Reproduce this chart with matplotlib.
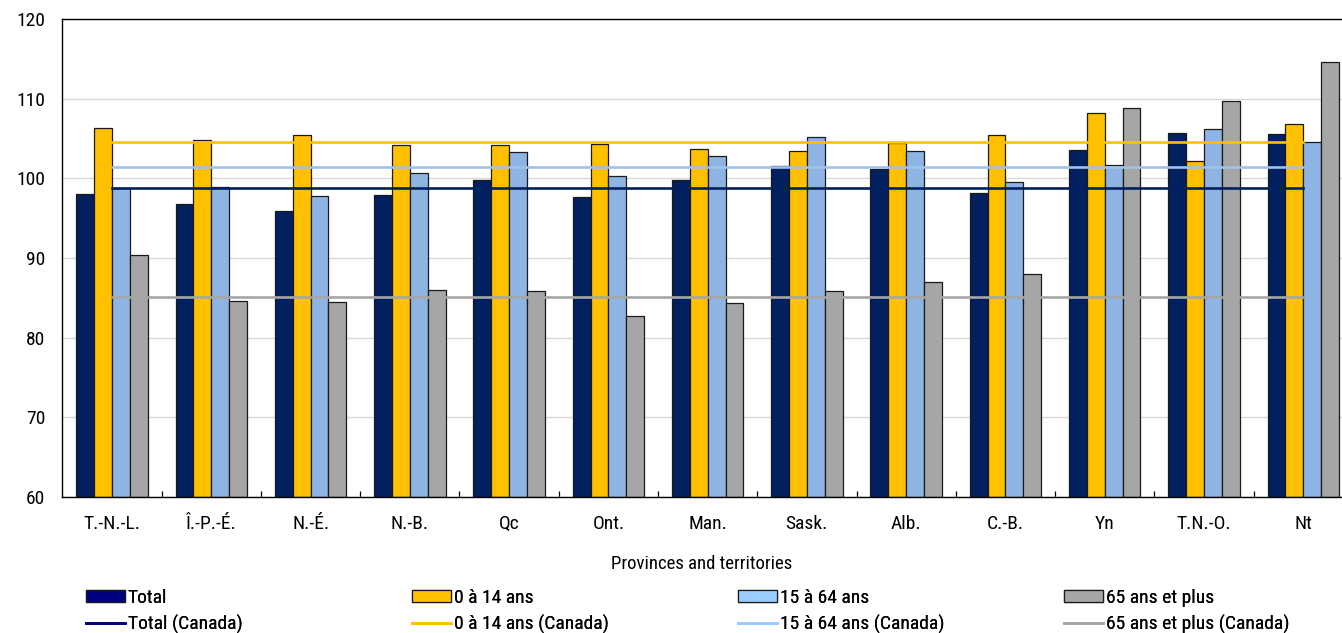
import matplotlib
matplotlib.use("Agg")
import matplotlib.pyplot as plt
import numpy as np
from matplotlib.patches import Patch
from matplotlib.lines import Line2D

plt.rcParams['font.family'] = ['Roboto Condensed', 'Liberation Sans', 'DejaVu Sans']

categories = ["T.-N.-L.", "Î.-P.-É.", "N.-É.", "N.-B.", "Qc", "Ont.", "Man.",
              "Sask.", "Alb.", "C.-B.", "Yn", "T.N.-O.", "Nt"]
total = [98.0, 96.8, 95.9, 97.9, 99.8, 97.6, 99.8, 101.6, 101.2, 98.1, 103.6, 105.7, 105.6]
age_0_14 = [106.3, 104.8, 105.5, 104.2, 104.2, 104.3, 103.7, 103.4, 104.4, 105.4, 108.2, 102.2, 106.8]
age_15_64 = [98.8, 98.9, 97.8, 100.7, 103.3, 100.25, 102.8, 105.2, 103.4, 99.55, 101.7, 106.2, 104.5]
age_65p = [90.4, 84.6, 84.5, 86.0, 85.8, 82.7, 84.4, 85.8, 87.0, 88.0, 108.8, 109.7, 114.6]
canada_total = 98.75
canada_0_14 = 104.5
canada_15_64 = 101.4
canada_65p = 85.1

series_labels = ["Total", "0 à 14 ans", "15 à 64 ans", "65 ans et plus"]
bar_colors = ["#002060", "#FFC000", "#8EB4E3", "#A6A6A6"]
legend_colors = ["#000080", "#FFC000", "#99CCFF", "#A6A6A6"]
line_colors = ["#002060", "#FFC000", "#9DC3E6", "#A6A6A6"]
FS = 14

fig = plt.figure(figsize=(13.42, 6.33), dpi=100)
ax = fig.add_axes([62/1342, 1-497/633, 1-62/1342, (497-19)/633])

x = np.arange(len(categories))
w = 0.18
series = [total, age_0_14, age_15_64, age_65p]
for i, (vals, col) in enumerate(zip(series, bar_colors)):
    ax.bar(x + (i - 1.5) * w, np.array(vals) - 60, width=w, bottom=60, color=col,
           edgecolor="#1a1a1a", linewidth=0.9, zorder=2)

canada = [canada_total, canada_0_14, canada_15_64, canada_65p]
for val, col in zip(canada, line_colors):
    ax.plot([x[0], x[-1]], [val, val], color=col, linewidth=1.9, zorder=3)

ax.set_xlim(-0.504, 12.39)
ax.set_ylim(60, 120)
ax.set_yticks(np.arange(60, 121, 10))
ax.yaxis.grid(True, color="#D9D9D9", linewidth=1.0, zorder=0)
ax.set_axisbelow(True)
ax.set_xticks(x)
ax.set_xticklabels(categories)
ax.set_xticks(np.arange(0.5, 12.5, 1), minor=True)
ax.tick_params(axis='x', which='major', length=0, pad=13, labelsize=FS)
ax.tick_params(axis='x', which='minor', length=4, direction='in', width=0.9)
ax.tick_params(axis='y', length=0, pad=12, labelsize=FS)
for s in ['left', 'top', 'bottom']:
    ax.spines[s].set_color("black")
    ax.spines[s].set_linewidth(1.0)
ax.spines['right'].set_visible(False)
ax.set_xlabel("Provinces and territories", fontsize=13.5, labelpad=16)

cols_x = [86, 412, 738, 1064]
for lab, pc, cx in zip(series_labels, legend_colors, cols_x):
    handles = [Patch(facecolor=pc, edgecolor="#1a1a1a", linewidth=0.9),
               Line2D([0], [0], color=pc, linewidth=1.9)]
    leg = fig.legend(handles, [lab, lab + " (Canada)"], loc="upper left",
                     bbox_to_anchor=(cx / 1342, 1 - 589 / 633),
                     frameon=False, fontsize=FS, handlelength=2.0,
                     handleheight=0.6, handletextpad=0.15, labelspacing=0.4,
                     borderaxespad=0, borderpad=0)
    fig.add_artist(leg)

fig.savefig("out.png", dpi=100)
